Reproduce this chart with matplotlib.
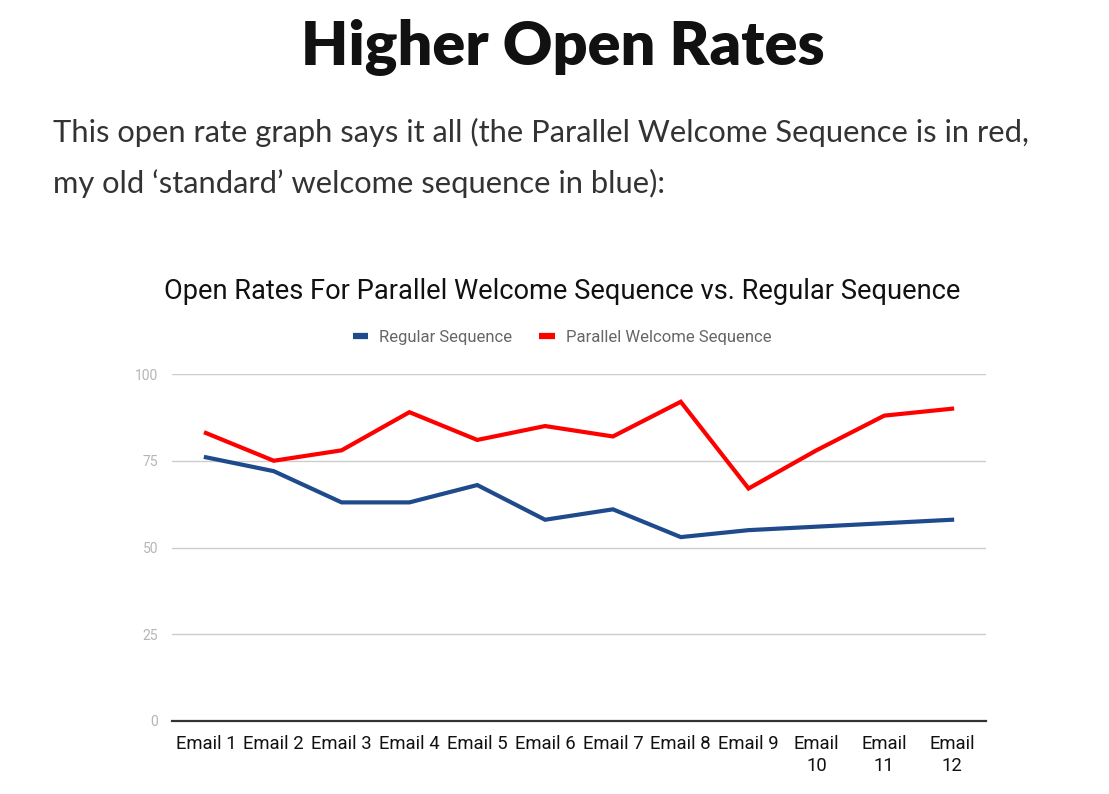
import matplotlib
matplotlib.use("Agg")
import matplotlib.pyplot as plt

categories = ["Email 1", "Email 2", "Email 3", "Email 4", "Email 5", "Email 6",
              "Email 7", "Email 8", "Email 9", "Email\n10", "Email\n11", "Email\n12"]
regular = [76, 72, 63, 63, 68, 58, 61, 53, 55, 56, 57, 58]
parallel = [83, 75, 78, 89, 81, 85, 82, 92, 67, 78, 88, 90]
yticks = [0, 25, 50, 75, 100]

W, H = 1109, 794
fig = plt.figure(figsize=(W / 100, H / 100), dpi=100)
fig.patch.set_facecolor("white")

fig.text(563 / W, 1 - 64 / H, "Higher Open Rates", ha="center", va="baseline",
         fontsize=44, fontweight="heavy", family=["Lato", "DejaVu Sans"], color="#111111")
fig.text(53 / W, 1 - 142 / H,
         "This open rate graph says it all (the Parallel Welcome Sequence is in red,",
         ha="left", va="baseline", fontsize=22.2, family=["Lato", "DejaVu Sans"], color="#333333")
fig.text(53 / W, 1 - 193 / H,
         "my old \u2018standard\u2019 welcome sequence in blue):",
         ha="left", va="baseline", fontsize=22.2, family=["Lato", "DejaVu Sans"], color="#333333")

fig.text(562 / W, 1 - 291 / H,
         "Open Rates For Parallel Welcome Sequence vs. Regular Sequence",
         ha="center", va="center", fontsize=19.6, family=["Roboto", "DejaVu Sans"], color="#111111")

ax = fig.add_axes([172 / W, 1 - 721 / H, (986 - 172) / W, (721 - 374) / H])
x = list(range(len(categories)))
ax.plot(x, regular, color="#1f4a8c", lw=3, label="Regular Sequence", solid_joinstyle="miter")
ax.plot(x, parallel, color="#ff0000", lw=3, label="Parallel Welcome Sequence", solid_joinstyle="miter")
ax.set_xlim(-0.5, len(categories) - 0.5)
ax.set_ylim(0, 100)
ax.set_yticks(yticks)
ax.set_yticklabels([str(v) for v in yticks])
ax.set_xticks(x)
ax.set_xticklabels(categories, fontsize=13.3, family=["Roboto", "DejaVu Sans"], color="#111111",
                   linespacing=1.3, va="top")
for lab in ax.get_yticklabels():
    lab.set_fontsize(10)
    lab.set_color("#b5b5b5")
    lab.set_family(["Roboto", "DejaVu Sans"])
ax.tick_params(axis="both", length=0)
ax.tick_params(axis="x", pad=10)
ax.tick_params(axis="y", pad=10)
for s in ["top", "right", "left"]:
    ax.spines[s].set_visible(False)
ax.spines["bottom"].set_color("#333333")
ax.spines["bottom"].set_linewidth(1.6)
ax.grid(axis="y", color="#cccccc", lw=1)
ax.set_axisbelow(True)

leg = fig.legend(handles=ax.get_lines(), loc="center", bbox_to_anchor=(562 / W, 1 - 337 / H),
                 ncol=2, frameon=False, handlelength=0.95, handletextpad=0.65,
                 columnspacing=1.6, prop={"family": ["Roboto", "DejaVu Sans"], "size": 12})
for t in leg.get_texts():
    t.set_color("#666666")
for l in leg.get_lines():
    l.set_linewidth(4.5)
    l.set_solid_capstyle("butt")

fig.savefig("out.png", dpi=100, facecolor="white")
